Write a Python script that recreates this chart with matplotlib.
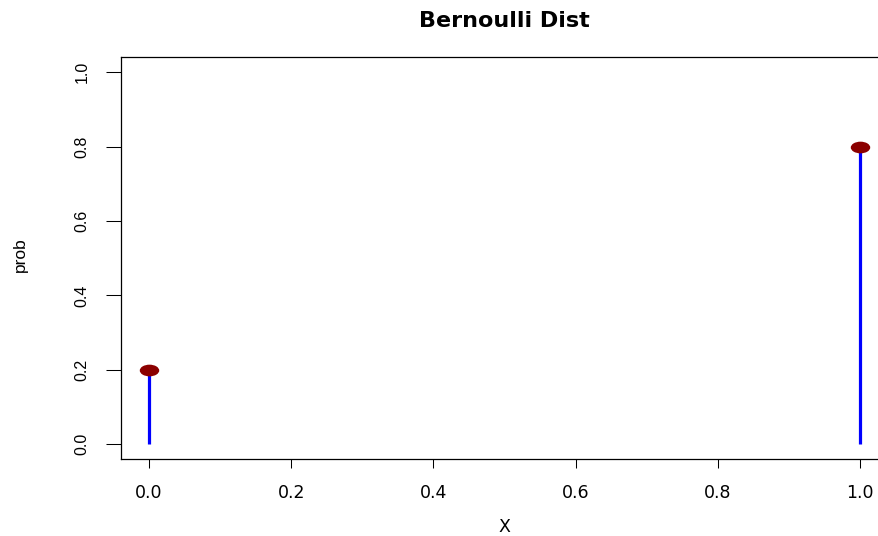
import numpy as np
import matplotlib
matplotlib.use("Agg")
import matplotlib.pyplot as plt
from matplotlib.path import Path
from matplotlib.transforms import Affine2D

# data
x_vals = [0, 1]
prob = [0.2, 0.8]
xticks = [0.0, 0.2, 0.4, 0.6, 0.8, 1.0]
yticks = [0.0, 0.2, 0.4, 0.6, 0.8, 1.0]
xtick_labels = ["0.0", "0.2", "0.4", "0.6", "0.8", "1.0"]
ytick_labels = ["0.0", "0.2", "0.4", "0.6", "0.8", "1.0"]

W, H = 879, 536
fig = plt.figure(figsize=(W / 100, H / 100), dpi=100)

# plot region in pixels; the R box runs past the right edge, so the axes
# stops at the edge of the picture and the x range is cut to match
left, right, top, bottom = 120.6, 879.0, 57.4, 459.0
ax = fig.add_axes([left / W, (H - bottom) / H, (right - left) / W, (bottom - top) / H])
ax.patch.set_visible(False)

# squashed dot, as in the picture
ell = Path.unit_circle().transformed(Affine2D().scale(1.0, 0.6))

ax.vlines(x_vals, 0, prob, colors="blue", linewidth=2.3, zorder=2)
ax.plot(x_vals, prob, linestyle="none", marker=ell, markersize=14,
        color="#8b0000", markeredgewidth=0, zorder=3, clip_on=False)

ax.set_xlim(-0.04, 1.0267)
ax.set_ylim(-0.04, 1.04)

for s in ax.spines.values():
    s.set_linewidth(0.9)
    s.set_color("black")
ax.spines["right"].set_visible(False)

ax.set_xticks(xticks)
ax.set_xticklabels(xtick_labels, family="DejaVu Sans", fontsize=12.5)
ax.set_yticks(yticks)
ax.set_yticklabels(ytick_labels, family="Liberation Sans", fontsize=11.5,
                   rotation=90, va="center")
ax.tick_params(axis="x", length=6.5, width=0.75, pad=11.5, colors="black")
ax.tick_params(axis="y", length=10.5, width=0.75, pad=12, colors="black")

# title / xlabel centred on the full R box, not on the clipped axes
cx = (504.5 - left) / (right - left)

ax.set_title("Bernoulli Dist", family="DejaVu Sans", fontweight="bold",
             fontsize=16, pad=21.6, x=cx)

ax.set_xlabel("X", family="DejaVu Sans", fontsize=12.5)
ax.xaxis.label.set_va("center")
ax.xaxis.set_label_coords(cx, (H - 527 - (H - bottom)) / (bottom - top))

ax.set_ylabel("prob", family="Liberation Sans", fontsize=12.5)
ax.yaxis.label.set_va("center")
ax.yaxis.set_label_coords((20 - left) / (right - left), (H - 255 - (H - bottom)) / (bottom - top))

fig.savefig("out.png", dpi=100)
